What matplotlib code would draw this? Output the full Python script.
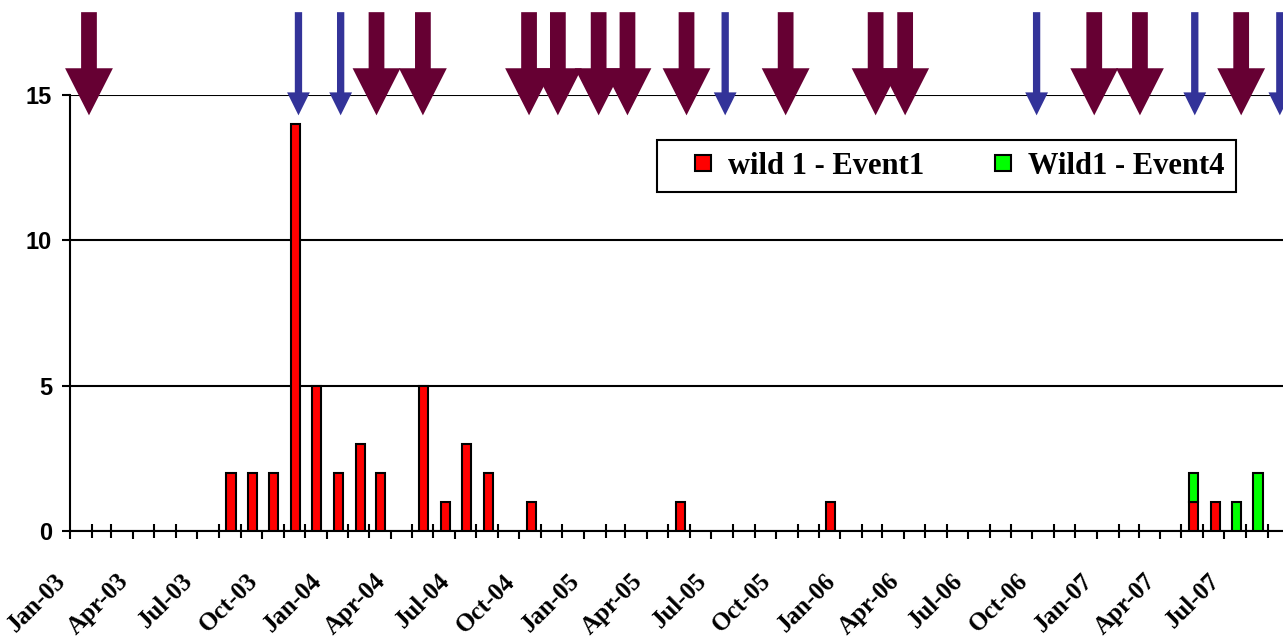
import numpy as np
import pandas as pd
import matplotlib
matplotlib.use('Agg')
import matplotlib.pyplot as plt
import matplotlib.dates as mdates
from matplotlib.patches import FancyArrow
from matplotlib.lines import Line2D

# monthly counts (bars drawn mid-month)
red_months = ['2003-08', '2003-09', '2003-10', '2003-11', '2003-12', '2004-01', '2004-02',
              '2004-03', '2004-05', '2004-06', '2004-07', '2004-08', '2004-10', '2005-05',
              '2005-12', '2007-05', '2007-06']
red_vals = [2, 2, 2, 14, 5, 2, 3, 2, 5, 1, 3, 2, 1, 1, 1, 1, 1]
green_months = ['2007-05', '2007-07', '2007-08']
green_vals = [1, 1, 2]

# event arrows above the plot
big_events = ['2003-01-28', '2004-03-12', '2004-05-17', '2004-10-15', '2004-11-25',
              '2005-01-22', '2005-03-04', '2005-05-27', '2005-10-15', '2006-02-20',
              '2006-04-03', '2006-12-28', '2007-03-03', '2007-07-25']
small_events = ['2003-11-22', '2004-01-21', '2005-07-21', '2006-10-07', '2007-05-20',
                '2007-09-18']

label_red = 'wild 1 - Event1'
label_green = 'Wild1 - Event4'

serif = 'Liberation Serif'
sans = 'Liberation Sans'
red_c, green_c = '#ff0000', '#00ff00'

red_x = mdates.date2num(pd.to_datetime(red_months) + pd.Timedelta(days=17))
green_x = mdates.date2num(pd.to_datetime(green_months) + pd.Timedelta(days=17))
red_lookup = dict(zip(red_months, red_vals))
green_bottom = [red_lookup.get(m, 0) for m in green_months]

fig = plt.figure(figsize=(12.83, 6.39), dpi=100)
ax = fig.add_axes([70 / 1283, 1 - 531 / 639, 1 - 70 / 1283, (531 - 95) / 639])

ax.bar(red_x, red_vals, width=13, color=red_c, edgecolor='black', lw=1.5, zorder=3)
ax.bar(green_x, green_vals, width=13, bottom=green_bottom, color=green_c,
       edgecolor='black', lw=1.5, zorder=3)

x0 = mdates.date2num(pd.Timestamp('2003-01-01'))
ax.set_xlim(x0, x0 + 1725.5)
ax.set_ylim(0, 15)

# arrows
top, tip = 17.85, 14.3
for d in big_events:
    x = mdates.date2num(pd.Timestamp(d))
    ax.add_patch(FancyArrow(x, top, 0, tip - top, width=22.4, head_width=68,
                            head_length=1.62, length_includes_head=True,
                            color='#660033', lw=0, clip_on=False, zorder=5))
for d in small_events:
    x = mdates.date2num(pd.Timestamp(d))
    ax.add_patch(FancyArrow(x, top, 0, tip - top, width=10.4, head_width=32.4,
                            head_length=0.79, length_includes_head=True,
                            color='#333399', lw=0, clip_on=False, zorder=5))

# axes styling
ax.set_yticks([0, 5, 10, 15])
ax.yaxis.grid(True, color='black', lw=1.5)
ax.set_axisbelow(True)
for s in ['top', 'right']:
    ax.spines[s].set_visible(False)
for s in ['left', 'bottom']:
    ax.spines[s].set_linewidth(1.5)

ax.xaxis.set_major_locator(mdates.MonthLocator(bymonth=[1, 4, 7, 10]))
ax.xaxis.set_minor_locator(mdates.MonthLocator())
ax.xaxis.set_major_formatter(mdates.DateFormatter('%b-%y'))
ax.tick_params(axis='x', which='major', direction='out', length=5.8, width=1.5, pad=22)
ax.tick_params(axis='x', which='minor', direction='inout', length=9.4, width=1.5)
ax.tick_params(axis='y', direction='out', length=5.8, width=1.5, pad=7)

for t in ax.get_xticklabels():
    t.set_fontfamily(serif)
    t.set_fontweight('bold')
    t.set_fontsize(18)
    t.set_rotation(45)
    t.set_ha('right')
    t.set_va('top')
for t in ax.get_yticklabels():
    t.set_fontfamily(sans)
    t.set_fontweight('bold')
    t.set_fontsize(17)

handles = [Line2D([], [], ls='none', marker='s', ms=11, mfc=c, mec='black', mew=1.5)
           for c in (red_c, green_c)]
leg = ax.legend(handles, [label_red, label_green], ncol=2, loc='upper left',
                bbox_to_anchor=(657 / 1283, 1 - 140 / 639), bbox_transform=fig.transFigure,
                prop={'family': serif, 'weight': 'bold', 'size': 22},
                handlelength=2.25, handletextpad=-0.31, columnspacing=1.47,
                borderpad=0.38, borderaxespad=0,
                fancybox=False, framealpha=1, edgecolor='black')
leg.get_frame().set_linewidth(1.5)

fig.savefig('out.png', dpi=100)
